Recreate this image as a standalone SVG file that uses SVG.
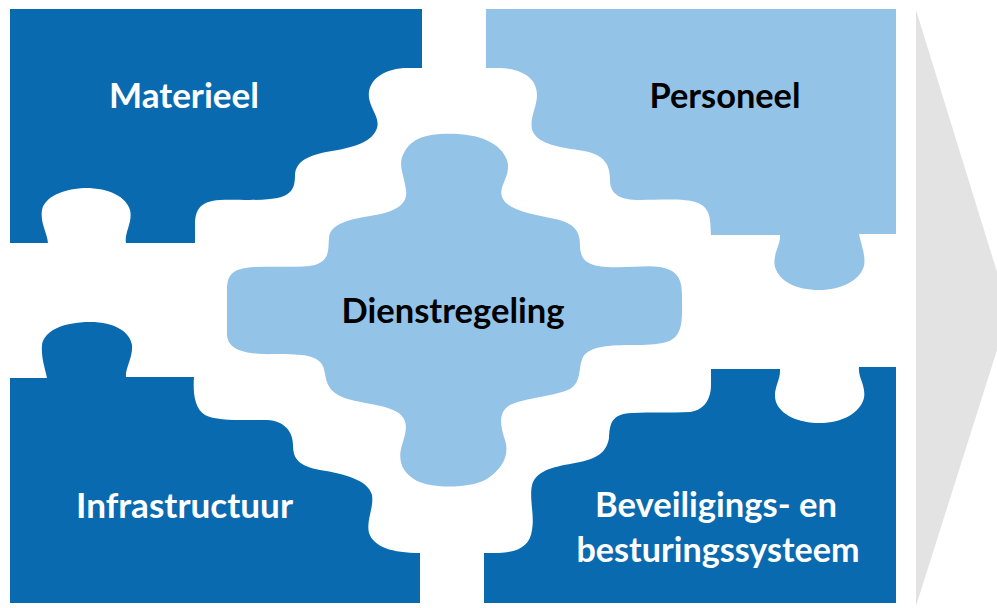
<svg xmlns="http://www.w3.org/2000/svg" width="997" height="608" viewBox="0 0 997 608">
<style>
.dark{fill:#0A6AB0}
.light{fill:#94C3E8}
.lbl{font-family:"Lato","Open Sans","Liberation Sans",sans-serif;font-weight:700;font-size:35px;text-anchor:middle}
.w{fill:#FFFFFF}
.k{fill:#000000}
</style>
<rect width="997" height="608" fill="#FFFFFF"/>
<g id="arrow">
<polygon points="916,10 997,272 997,350 916,606" fill="#E3E3E3"/>
</g>
<g id="materieel">
<path class="dark" d="M10,9 H422 V68 H408 C384,68 367,80 369,98 C371,110 380,118 377,128 C373,141 356,147 332,151 C308,155 296,161 295,175 C295,188 292,197 270,199 C250,201 235,199 220,200 C200,201 195,210 195,225 V243 H126 C124,233 133,222 130,210 C126,197 110,188 85,188 C62,189 45,197 42,210 C40,223 47,232 48,243 H10 Z"/>
<text class="lbl w" x="184" y="108" textLength="150" lengthAdjust="spacingAndGlyphs">Materieel</text>
</g>
<g id="personeel">
<path class="light" d="M486,9 H896 V234 H859 C861,245 866,255 864,266 C860,280 842,290 819,290 C796,290 779,281 775,267 C772,255 781,245 780,235 H711 C710,222 712,209 698,203 C686,198 660,200 640,200 C621,200 610,195 610,180 C610,165 605,155 584,151 C560,147 540,145 533,132 C528,120 537,108 537,95 C537,80 525,69 500,68 H486 Z"/>
<text class="lbl k" x="725" y="108" textLength="151" lengthAdjust="spacingAndGlyphs">Personeel</text>
</g>
<g id="infrastructuur">
<path class="dark" d="M10,378 H47 C45,368 41,358 42,345 C44,331 63,322 90,322 C115,322 130,332 132,345 C133,358 125,368 126,377 H194 C193,392 194,408 205,415 C216,421 240,420 267,420 C285,421 293,432 293,445 C293,460 300,466 320,470 C345,474 368,480 372,495 C374,508 366,520 369,533 C374,547 392,553 420,553 V603 H10 Z"/>
<text class="lbl w" x="184.5" y="518" textLength="217" lengthAdjust="spacingAndGlyphs">Infrastructuur</text>
</g>
<g id="beveiligings">
<path class="dark" d="M484,553 H499 C520,552 530,545 532,530 C535,515 528,495 533,482 C540,468 560,466 580,462 C600,458 607,450 609,438 C610,425 610,414 632,413 C652,412 670,413 690,412 C705,410 711,398 711,385 V369 H780 C781,380 772,390 776,402 C781,415 798,423 820,423 C842,423 860,413 864,398 C866,385 858,378 859,367 H896 V603 H484 Z"/>
<text class="lbl w" x="716" y="517" textLength="242" lengthAdjust="spacingAndGlyphs">Beveiligings- en</text>
<text class="lbl w" x="718" y="562" textLength="283" lengthAdjust="spacingAndGlyphs">besturingssysteem</text>
</g>
<g id="dienstregeling">
<path class="light" d="M440,134 C475,132 500,141 507,160 C512,175 498,186 502,197 C507,210 530,214 555,219 C575,223 580,232 580,245 C580,258 585,266 607,267 C630,268 645,265 660,267 C678,270 682,280 682,295 C682,310 683,325 678,333 C673,343 660,345 633,345 C610,345 590,346 583,357 C578,367 582,382 570,389 C555,396 525,398 510,405 C498,412 500,425 505,440 C510,455 502,470 485,480 C470,488 435,489 417,481 C400,472 398,458 402,445 C406,432 410,420 397,412 C380,402 350,404 335,393 C322,383 328,370 320,362 C310,352 290,355 263,354 C240,353 228,348 227,335 L227,290 C227,275 232,268 255,267 C280,266 300,268 315,265 C330,260 328,250 329,238 C330,225 345,220 370,216 C395,212 408,205 406,190 C404,175 398,165 403,155 C408,142 420,135 440,134 Z"/>
<text class="lbl k" x="453" y="323" textLength="223" lengthAdjust="spacingAndGlyphs">Dienstregeling</text>
</g>
<g id="connectors"/>
</svg>
